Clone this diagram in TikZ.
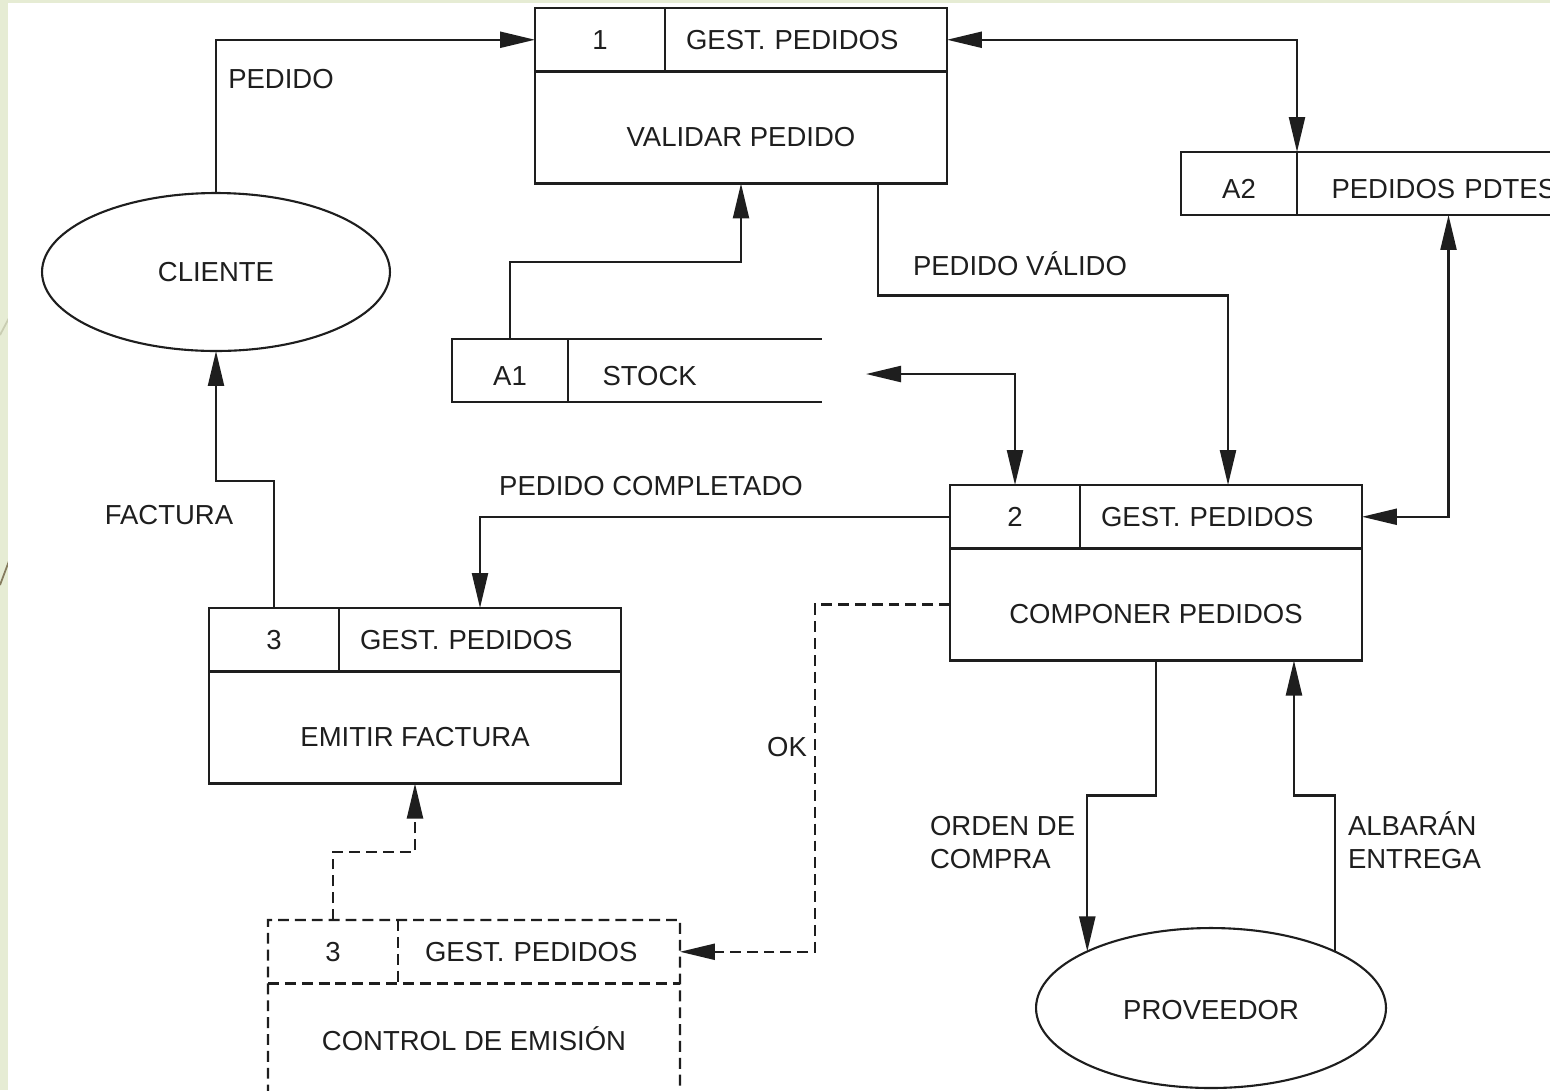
\documentclass[tikz,border=0pt]{standalone}
\usepackage{fontspec}
\setmainfont{Liberation Sans}
\usetikzlibrary{arrows.meta,shapes.geometric,calc}
\definecolor{slide}{HTML}{E6ECD4}
\definecolor{slideline}{HTML}{857B5E}
\definecolor{slidefaint}{HTML}{C9CDB2}
\definecolor{ink}{HTML}{1E1E1E}
\begin{document}
\begin{tikzpicture}[x=0.02cm,y=-0.02cm,
  every node/.style={font=\fontsize{15.65pt}{18.8pt}\selectfont, text=ink, inner sep=0pt, outer sep=0pt},
  cell/.style={draw=ink, line width=1.3pt, rectangle, minimum height=1.27cm, text height=11.2pt, text depth=0pt},
  numcell/.style={cell, minimum width=2.6cm},
  titlecell/.style={cell, minimum width=5.64cm, inner xsep=0.42cm, text width=4.8cm, align=left},
  bodycell/.style={cell, minimum width=8.24cm, minimum height=2.24cm, text height=21.4pt},
  storenum/.style={draw=ink, line width=1.3pt, rectangle, minimum width=2.32cm, minimum height=1.26cm, text height=17.4pt, text depth=0pt},
  storetext/.style={rectangle, minimum height=1.26cm, inner xsep=0.69cm, align=left, text height=17.4pt, text depth=0pt},
  entity/.style={draw=ink, line width=1.2pt, ellipse, text height=11.2pt, text depth=0pt},
  lbl/.style={text height=11.2pt, text depth=0pt},
  edge/.style={draw=ink, line width=1.3pt},
  dline/.style={dash pattern=on 6.2pt off 3.4pt},
  flow/.style={edge, -{Triangle[length=0.7cm,width=0.32cm]}},
  bflow/.style={edge, {Triangle[length=0.7cm,width=0.32cm]}-{Triangle[length=0.7cm,width=0.32cm]}},
  dflow/.style={flow, dline}]

\useasboundingbox (0,0) rectangle (1550,1090);

% slide background
\fill[slide] (0,0) rectangle (1550,1090);
\draw[slideline, line width=1pt] (0,585) -- (9,561);
\draw[slidefaint, line width=1pt] (0,335) -- (9,318);
\fill[white] (8,3) rectangle (1550,1090);

% external entities
\node[entity, minimum width=6.96cm, minimum height=3.16cm] (cliente) at (216,272) {CLIENTE};
\node[entity, minimum width=7cm, minimum height=3.2cm, text height=13pt] (prov) at (1211,1008) {PROVEEDOR};

% process 1
\node[numcell] (p1n) at (600,39.75) {1};
\node[titlecell] (p1t) at (806,39.75) {GEST. PEDIDOS};
\node[bodycell] (p1b) at (741,127.5) {VALIDAR PEDIDO};

% process 2
\node[numcell] (p2n) at (1015,516.75) {2};
\node[titlecell] (p2t) at (1221,516.75) {GEST. PEDIDOS};
\node[bodycell] (p2b) at (1156,604.5) {COMPONER PEDIDOS};

% process 3
\node[numcell] (p3n) at (274,639.75) {3};
\node[titlecell] (p3t) at (480,639.75) {GEST. PEDIDOS};
\node[bodycell] (p3b) at (415,727.5) {EMITIR FACTURA};

% control process (dashed outline)
\node[numcell, draw=none] (c3n) at (333,951.75) {3};
\node[titlecell, draw=none, inner xsep=0.54cm, text width=4.56cm] (c3t) at (539,951.75) {GEST. PEDIDOS};
\node[bodycell, draw=none, text height=12.9pt] (c3b) at (474,1039.5) {CONTROL DE EMISIÓN};
\draw[edge, dline] (c3b.south west) -- (c3n.north west) -- (c3t.north east) -- (c3b.south east);
\draw[edge, dline] (c3n.south west) -- (c3t.south east);
\draw[edge, dline] (c3n.north east) -- (c3n.south east);

% data stores
\node[storenum] (a1n) at (510,370.5) {A1};
\node[storetext, text width=3.7cm] (a1t) at (695,370.5) {STOCK};
\draw[edge] (a1n.north east) -- (a1t.north east);
\draw[edge] (a1n.south east) -- (a1t.south east);

\node[storenum] (a2n) at (1239,183.5) {A2};
\node[storetext, text width=4.68cm] (a2t) at (1448.5,183.5) {PEDIDOS PDTES};
\draw[edge] (a2n.north east) -- (a2t.north east);
\draw[edge] (a2n.south east) -- (a2t.south east);

\coordinate (stockend) at (866,374);

% flows
\draw[flow] (cliente.north) |- (p1n.west);
\draw[bflow] (p1t.east) -| (a2n.north east);
\draw[flow] (a1n.north) -- ++(0,-77) -| (p1b.south);
\draw[flow] ($(p1b.south east)+(-69,0)$) -- ++(0,112) -| ($(p2t.north)+(7,0)$);
\draw[bflow] (stockend) -| (p2n.north);
\draw[bflow] (p2t.east) -| (a2t.south);
\draw[flow] (p2n.west) -| (p3t.north);
\draw[flow] (p3n.north) -- ++(0,-127) -| (cliente.south);
\draw[dflow] (p2b.west) -- ++(-135,0) |- (c3t.east);
\draw[dflow] (c3n.north) -- ++(0,-68) -| (p3b.south);
\draw[flow] (p2b.south) -- ++(0,135) -| (prov.north west);
\draw[flow] (prov.north east) -- ++(0,-156) -| ($(p2b.south east)+(-68,0)$);

% flow labels
\node[lbl] (lpedido) at (281,79) {PEDIDO};
\node[lbl] (lvalido) at (1020,266) {PEDIDO VÁLIDO};
\node[lbl] (lcompl) at (651,486) {PEDIDO COMPLETADO};
\node[lbl] (lfactura) at (169,515) {FACTURA};
\node[lbl] (lok) at (787,747) {OK};
\node[lbl, anchor=west] (lorden1) at (930,826) {ORDEN DE};
\node[lbl, anchor=west] (lorden2) at (930,859) {COMPRA};
\node[lbl, anchor=west] (lalb1) at (1348,826) {ALBARÁN};
\node[lbl, anchor=west] (lalb2) at (1348,859) {ENTREGA};
\end{tikzpicture}
\end{document}
